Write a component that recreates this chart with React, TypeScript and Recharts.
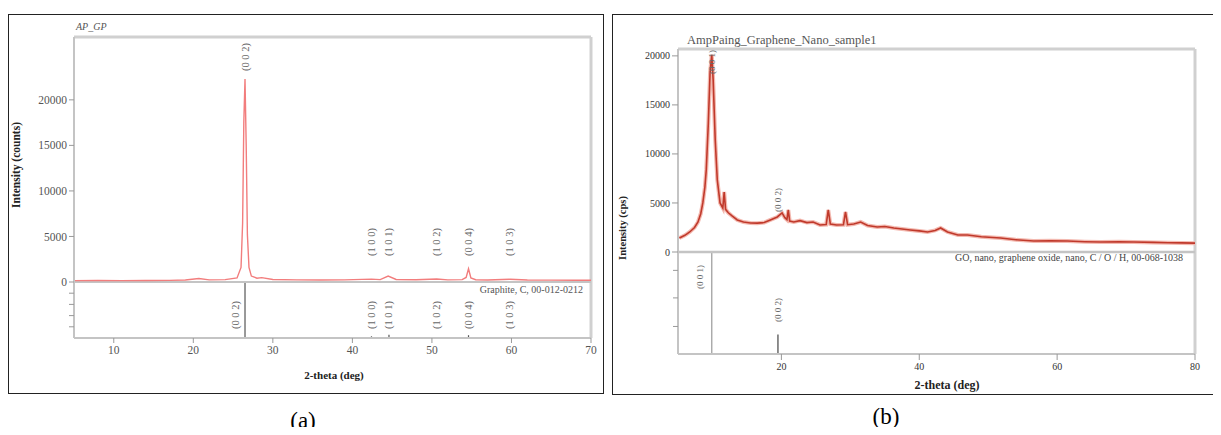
import React from "react";
import { LineChart, Line, XAxis, YAxis, ReferenceLine } from "recharts";

const SERIF = "'Liberation Serif', 'Times New Roman', serif";

// (a) AP_GP - graphite powder
const aTheta = [5, 8, 11, 14, 17, 19, 20.7, 22, 24, 25.5, 26.0, 26.2, 26.35, 26.5, 26.65, 26.8, 27.0, 27.3, 28.0, 28.6, 30, 33, 36, 39, 42.4, 43.5, 44.5, 45.5, 48, 50.6, 52, 53.8, 54.3, 54.6, 54.9, 55.5, 57, 59.8, 62, 65, 68, 70];
const aCounts = [150, 160, 150, 170, 180, 220, 380, 230, 260, 450, 1600, 6500, 17500, 22300, 15000, 5200, 1600, 650, 420, 480, 280, 230, 220, 230, 320, 260, 650, 280, 240, 330, 230, 260, 500, 1450, 450, 250, 220, 300, 220, 210, 200, 200];
const aXTicks = [10, 20, 30, 40, 50, 60, 70];
const aYTicks = [0, 5000, 10000, 15000, 20000];
const aStickTicks = [20, 40, 60, 80];
const aRefPos = [26.5, 42.4, 44.6, 50.6, 54.6, 59.8];
const aRefHkl = ["(0 0 2)", "(1 0 0)", "(1 0 1)", "(1 0 2)", "(0 0 4)", "(1 0 3)"];
const aRefRel = [100, 3, 6, 2, 5, 2];
const A_YMAX = 26900;

// (b) AmpPaing_Graphene_Nano_sample1
const bTheta = [5.2, 6.0, 6.7, 7.4, 7.9, 8.3, 8.6, 8.9, 9.1, 9.4, 9.65, 9.9, 10.1, 10.4, 10.7, 11.1, 11.5, 11.7, 11.9, 12.3, 12.8, 13.6, 14.5, 15.5, 16.5, 17.5, 18.4, 19.4, 19.8, 20.1, 20.5, 20.8, 21.0, 21.2, 21.8, 22.7, 23.7, 24.6, 25.6, 26.5, 26.8, 27.1, 28.0, 29.0, 29.3, 29.6, 30.5, 31.5, 32.5, 33.9, 35.0, 36.3, 37.5, 38.7, 40.0, 41.2, 42.3, 43.1, 44.1, 45.6, 47.0, 49.0, 51.8, 54.0, 56.6, 59.0, 61.5, 64.0, 66.3, 69.0, 71.1, 74.0, 76.1, 78.0, 80.0];
const bCps = [1430, 1700, 2040, 2500, 3060, 3900, 5000, 6600, 8370, 13160, 18270, 20100, 17550, 11430, 7350, 5000, 4490, 6120, 4350, 4000, 3700, 3270, 3050, 2960, 2940, 3000, 3270, 3570, 3800, 3980, 3500, 3300, 4290, 3150, 3060, 3200, 3000, 3060, 2760, 2800, 4290, 2850, 2760, 2780, 4080, 2780, 2850, 3060, 2700, 2550, 2600, 2450, 2350, 2250, 2150, 2040, 2200, 2450, 2040, 1730, 1730, 1550, 1430, 1250, 1120, 1150, 1120, 1050, 1020, 1040, 1020, 980, 950, 930, 900];
const bXTicks = [20, 40, 60, 80];
const bYTicks = [0, 5000, 10000, 15000, 20000];
const bStickTicks = [27, 55, 82];
const bRefPos = [9.9, 19.5];
const bRefHkl = ["(0 0 1)", "(0 0 2)"];
const bRefRel = [100, 19];
const B_YMAX = 20700;

const FRAME = "#d0d0d0";

// rotated hkl text, placed from the top of the plot area
function Hkl(props: any) {
  const { viewBox, text, dy, dx = 0, size, color } = props;
  if (!viewBox) return null;
  const top = Math.min(viewBox.y, viewBox.y + (viewBox.height || 0));
  const x = viewBox.x + dx;
  const y = top + dy;
  return (
    <text x={x} y={y} transform={`rotate(-90 ${x} ${y})`} textAnchor="middle" dominantBaseline="central" fontSize={size} fill={color} fontFamily={SERIF}>
      {text}
    </text>
  );
}

function Txt({ x, y, size, children, bold, italic, rotate, color = "#222", anchor = "center" }: any) {
  const tx = anchor === "center" ? "-50%" : anchor === "right" ? "-100%" : "0";
  return (
    <div
      style={{
        position: "absolute", left: x, top: y, whiteSpace: "nowrap", fontFamily: SERIF, fontSize: size, color,
        fontWeight: bold ? 700 : 400, fontStyle: italic ? "italic" : "normal", lineHeight: 1,
        transform: `translate(${tx}, -50%)${rotate ? ` rotate(${rotate}deg)` : ""}`,
      }}
    >
      {children}
    </div>
  );
}

function PanelA() {
  const data = aTheta.map((t, i) => ({ theta: t, counts: aCounts[i] }));
  const sticks = aRefPos.map((p, i) => ({ theta: p, rel: aRefRel[i] }));
  const tick = { fontSize: 11.5, fill: "#555", fontFamily: SERIF };
  const axis = { stroke: "#c4c4c4", strokeWidth: 2 };
  return (
    <>
      <div style={{ position: "absolute", left: 8, top: 14, width: 594, height: 378, border: "1.5px solid #222" }} />
      <div style={{ position: "absolute", left: 8, top: 282 }}>
        <LineChart width={590} height={80} data={sticks} margin={{ top: 0, right: 7, bottom: 0, left: 0 }}>
          <XAxis type="number" dataKey="theta" domain={[5, 70]} ticks={aXTicks} interval={0} height={24} tick={tick} tickSize={5} tickMargin={3} tickLine={{ stroke: "#999" }} axisLine={axis} />
          <YAxis type="number" dataKey="rel" domain={[0, 100]} ticks={aStickTicks} interval={0} width={66} tickFormatter={() => ""} tickSize={5} tickLine={{ stroke: "#999" }} axisLine={axis} />
          <ReferenceLine x={70} stroke={FRAME} strokeWidth={3} />
          <Line dataKey="rel" stroke="none" dot={false} activeDot={false} isAnimationActive={false} />
          {sticks.map((s) => (
            <ReferenceLine key={"s" + s.theta} segment={[{ x: s.theta, y: 0 }, { x: s.theta, y: s.rel }]} stroke="#555" strokeWidth={1.2} ifOverflow="visible" />
          ))}
          {sticks.map((s, i) => (
            <ReferenceLine key={"l" + s.theta} x={s.theta} stroke="none" label={<Hkl text={aRefHkl[i]} dy={33} dx={s.rel > 50 ? -10 : 0} size={10.5} color="#666" />} />
          ))}
        </LineChart>
      </div>
      <div style={{ position: "absolute", left: 8, top: 30 }}>
        <LineChart width={590} height={262} data={data} margin={{ top: 7, right: 7, bottom: 10, left: 0 }}>
          <XAxis type="number" dataKey="theta" domain={[5, 70]} hide />
          <YAxis type="number" domain={[0, A_YMAX]} ticks={aYTicks} interval={0} width={66} tick={tick} tickSize={5} tickLine={{ stroke: "#999" }} axisLine={axis} allowDataOverflow />
          <ReferenceLine y={A_YMAX} stroke={FRAME} strokeWidth={3} />
          <ReferenceLine x={70} stroke={FRAME} strokeWidth={3} />
          <ReferenceLine y={0} stroke="#c4c4c4" strokeWidth={2} />
          {aRefPos.map((p, i) => (
            <ReferenceLine key={p} x={p} stroke="none" label={<Hkl text={aRefHkl[i]} dy={i === 0 ? 20 : 205} size={10.5} color="#666" />} />
          ))}
          <Line dataKey="counts" type="linear" stroke="#f27d7d" strokeWidth={1.4} dot={false} isAnimationActive={false} />
        </LineChart>
      </div>
      <Txt x={76} y={27} size={10} italic color="#555" anchor="left">AP_GP</Txt>
      <Txt x={17} y={165} size={11.5} bold rotate={-90}>Intensity (counts)</Txt>
      <Txt x={334} y={375} size={11} bold>2-theta (deg)</Txt>
      <Txt x={583} y={290} size={10} color="#555" anchor="right">Graphite, C, 00-012-0212</Txt>
      <Txt x={303} y={420} size={23} color="#000">(a)</Txt>
    </>
  );
}

function PanelB() {
  const data = bTheta.map((t, i) => ({ theta: t, cps: bCps[i] }));
  const sticks = bRefPos.map((p, i) => ({ theta: p, rel: bRefRel[i] }));
  const tick = { fontSize: 10, fill: "#333", fontFamily: SERIF };
  const axis = { stroke: "#c4c4c4", strokeWidth: 2 };
  return (
    <>
      <div style={{ position: "absolute", left: 612, top: 14, width: 620, height: 379, border: "1.5px solid #222" }} />
      <div style={{ position: "absolute", left: 612, top: 252 }}>
        <LineChart width={590} height={140} data={sticks} margin={{ top: 0, right: 7, bottom: 0, left: 0 }}>
          <XAxis type="number" dataKey="theta" domain={[5, 80]} ticks={bXTicks} interval={0} height={38} tick={tick} tickSize={6} tickMargin={3} tickLine={{ stroke: "#999" }} axisLine={axis} />
          <YAxis type="number" dataKey="rel" domain={[0, 100]} ticks={bStickTicks} interval={0} width={66} tickFormatter={() => ""} tickSize={5} tickLine={{ stroke: "#999" }} axisLine={axis} />
          <ReferenceLine x={80} stroke={FRAME} strokeWidth={3} />
          <Line dataKey="rel" stroke="none" dot={false} activeDot={false} isAnimationActive={false} />
          {sticks.map((s) => (
            <ReferenceLine key={"s" + s.theta} segment={[{ x: s.theta, y: 0 }, { x: s.theta, y: s.rel }]} stroke={s.rel > 50 ? "#999" : "#444"} strokeWidth={1.2} ifOverflow="visible" />
          ))}
          {sticks.map((s, i) => (
            <ReferenceLine key={"l" + s.theta} x={s.theta} stroke="none" label={<Hkl text={bRefHkl[i]} dy={s.rel > 50 ? 25 : 58} dx={s.rel > 50 ? -12 : 0} size={9} color="#666" />} />
          ))}
        </LineChart>
      </div>
      <div style={{ position: "absolute", left: 612, top: 42 }}>
        <LineChart width={590} height={220} data={data} margin={{ top: 7, right: 7, bottom: 10, left: 0 }}>
          <XAxis type="number" dataKey="theta" domain={[5, 80]} hide />
          <YAxis type="number" domain={[0, B_YMAX]} ticks={bYTicks} interval={0} width={66} tick={tick} tickSize={6} tickLine={{ stroke: "#999" }} axisLine={axis} allowDataOverflow />
          <ReferenceLine y={B_YMAX} stroke={FRAME} strokeWidth={3} />
          <ReferenceLine x={80} stroke={FRAME} strokeWidth={3} />
          <ReferenceLine y={0} stroke="#c4c4c4" strokeWidth={2.5} />
          <Line dataKey="cps" type="linear" stroke="#f3b9b0" strokeWidth={4} dot={false} isAnimationActive={false} />
          <Line dataKey="cps" type="linear" stroke="#c0392b" strokeWidth={1.6} dot={false} isAnimationActive={false} />
          {bRefPos.map((p, i) => (
            <ReferenceLine key={p} x={p} stroke="none" label={<Hkl text={bRefHkl[i]} dy={i === 0 ? 13 : 151} size={9} color="#666" />} />
          ))}
        </LineChart>
      </div>
      <Txt x={687} y={40} size={12.5} color="#555" anchor="left">AmpPaing_Graphene_Nano_sample1</Txt>
      <Txt x={623} y={228} size={10.5} bold rotate={-90}>Intensity (cps)</Txt>
      <Txt x={947} y={385} size={12} bold>2-theta (deg)</Txt>
      <Txt x={1183} y={258} size={10} color="#444" anchor="right">GO, nano, graphene oxide, nano, C / O / H, 00-068-1038</Txt>
      <Txt x={886} y={416} size={23} color="#000">(b)</Txt>
    </>
  );
}

export default function App() {
  return (
    <div style={{ position: "relative", width: 1221, height: 435, margin: -8, background: "#fff", overflow: "hidden", fontFamily: SERIF }}>
      <PanelA />
      <PanelB />
    </div>
  );
}
